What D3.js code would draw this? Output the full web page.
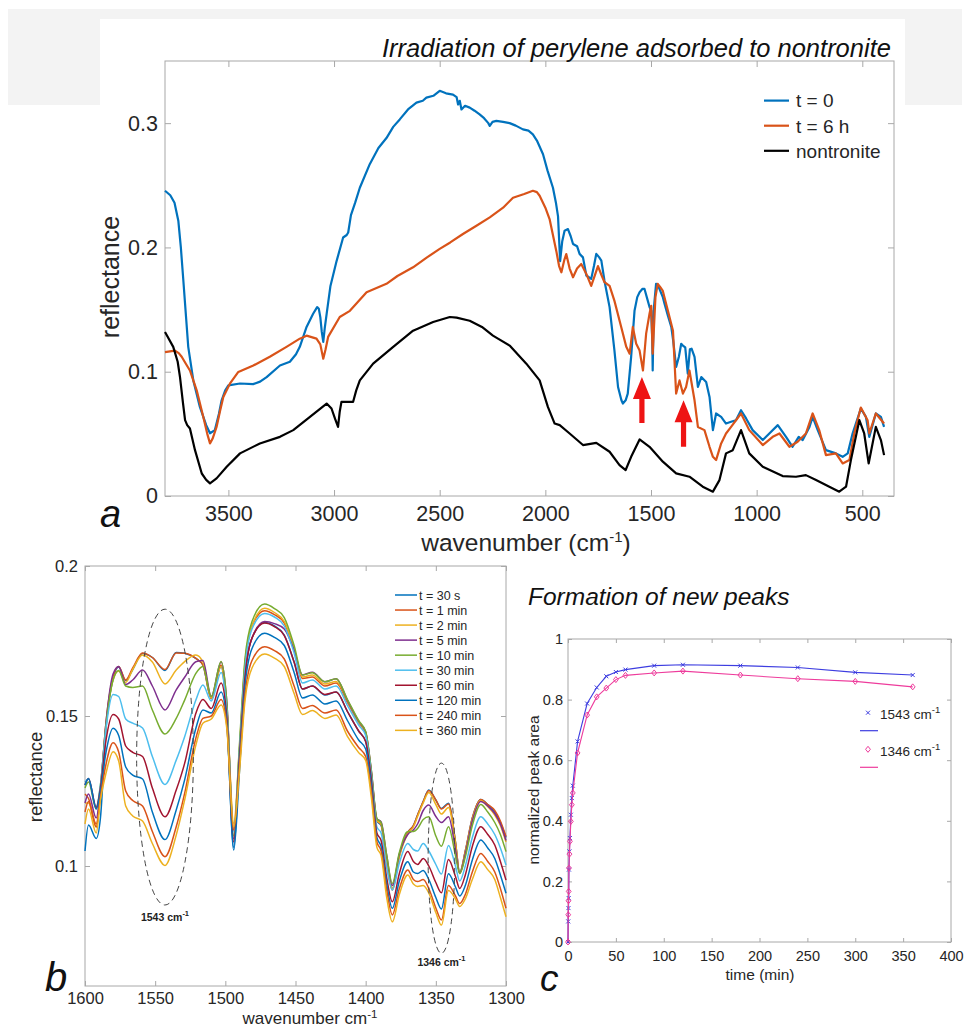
<!DOCTYPE html>
<html>
<head>
<meta charset="utf-8">
<script src="https://cdn.jsdelivr.net/npm/d3@7"></script>
<style>
body { margin: 0; background: #fff; }
svg { display: block; }
</style>
</head>
<body>
<script>
// ---- panel a: spectra, [wavenumber, reflectance] pairs
var specT0 = [[3800,0.2456],[3775,0.242],[3755,0.236],[3737,0.2215],[3725,0.200],[3713,0.173],[3700,0.143],[3690,0.120],[3666,0.093],[3635,0.0717],[3605,0.057],[3587,0.0505],[3564,0.053],[3545,0.066],[3532,0.077],[3515,0.085],[3500,0.089],[3445,0.0905],[3383,0.090],[3350,0.092],[3319,0.0957],[3256,0.105],[3209,0.108],[3180,0.114],[3162,0.120],[3130,0.136],[3099,0.1466],[3080,0.152],[3072,0.1506],[3065,0.1439],[3058,0.132],[3051,0.124],[3044,0.135],[3035,0.1466],[3017,0.169],[2988,0.189],[2957,0.208],[2940,0.210],[2933,0.212],[2920,0.226],[2900,0.236],[2878,0.248],[2831,0.267],[2790,0.280],[2752,0.288],[2720,0.297],[2689,0.303],[2650,0.311],[2610,0.3165],[2580,0.318],[2563,0.3205],[2530,0.322],[2500,0.326],[2470,0.324],[2437,0.323],[2420,0.321],[2413,0.315],[2405,0.318],[2397,0.311],[2380,0.314],[2358,0.3125],[2335,0.310],[2311,0.307],[2290,0.304],[2270,0.300],[2263,0.2978],[2250,0.301],[2232,0.3018],[2200,0.301],[2169,0.300],[2140,0.298],[2106,0.295],[2080,0.294],[2059,0.291],[2040,0.286],[2011,0.275],[1990,0.262],[1964,0.248],[1950,0.236],[1940,0.225],[1930,0.189],[1920,0.205],[1909,0.2135],[1893,0.2148],[1880,0.209],[1869,0.2028],[1850,0.201],[1838,0.1948],[1822,0.192],[1806,0.1774],[1783,0.1747],[1770,0.185],[1759,0.1948],[1745,0.192],[1735,0.1894],[1720,0.173],[1696,0.152],[1673,0.117],[1656,0.0877],[1640,0.077],[1633,0.0744],[1620,0.077],[1610,0.0824],[1594,0.112],[1578,0.149],[1565,0.160],[1554,0.164],[1540,0.1667],[1531,0.1667],[1515,0.157],[1507,0.152],[1499,0.149],[1494,0.125],[1492,0.101],[1487,0.150],[1476,0.1707],[1468,0.170],[1444,0.160],[1436,0.1547],[1420,0.145],[1404,0.136],[1395,0.125],[1381,0.1038],[1368,0.112],[1357,0.1225],[1349,0.121],[1338,0.1195],[1326,0.0985],[1316,0.118],[1308,0.1185],[1294,0.112],[1278,0.0877],[1262,0.0957],[1239,0.0917],[1223,0.0797],[1207,0.053],[1192,0.0664],[1168,0.0637],[1145,0.0583],[1121,0.0597],[1098,0.061],[1074,0.069],[1050,0.0624],[1019,0.053],[971,0.045],[940,0.0503],[900,0.057],[861,0.0476],[830,0.0396],[801,0.0476],[782,0.045],[750,0.0556],[735,0.0637],[711,0.053],[672,0.0369],[625,0.0343],[593,0.0315],[569,0.0343],[546,0.0503],[507,0.0704],[483,0.0637],[467,0.0476],[436,0.0664],[412,0.0637],[397,0.0556]];

var specT6 = [[3800,0.1158],[3753,0.117],[3735,0.115],[3721,0.112],[3700,0.106],[3682,0.101],[3650,0.085],[3619,0.0637],[3600,0.050],[3587,0.0423],[3575,0.046],[3556,0.0556],[3540,0.068],[3524,0.0797],[3493,0.0904],[3453,0.0998],[3382,0.105],[3304,0.112],[3225,0.120],[3162,0.1266],[3130,0.129],[3083,0.1266],[3065,0.122],[3051,0.1105],[3040,0.118],[3028,0.128],[2973,0.144],[2925,0.149],[2846,0.164],[2752,0.1707],[2700,0.177],[2626,0.184],[2560,0.192],[2500,0.1988],[2450,0.204],[2390,0.2108],[2330,0.217],[2263,0.2242],[2200,0.232],[2153,0.240],[2100,0.243],[2059,0.2456],[2040,0.2445],[2027,0.2416],[2000,0.232],[1980,0.2228],[1948,0.197],[1935,0.185],[1924,0.180],[1910,0.190],[1901,0.1947],[1885,0.183],[1869,0.176],[1850,0.183],[1830,0.1867],[1806,0.1787],[1783,0.169],[1765,0.178],[1751,0.185],[1735,0.178],[1720,0.172],[1696,0.169],[1673,0.157],[1641,0.136],[1617,0.120],[1601,0.1145],[1586,0.136],[1570,0.1225],[1554,0.117],[1538,0.101],[1523,0.1306],[1507,0.1466],[1499,0.153],[1492,0.1145],[1479,0.160],[1468,0.1707],[1456,0.168],[1444,0.165],[1420,0.149],[1396,0.133],[1381,0.0824],[1365,0.093],[1349,0.0824],[1334,0.0877],[1318,0.101],[1294,0.077],[1278,0.0556],[1247,0.053],[1223,0.0396],[1207,0.0315],[1192,0.0289],[1168,0.0423],[1145,0.0503],[1121,0.0556],[1074,0.0664],[1035,0.053],[971,0.041],[924,0.0476],[892,0.0503],[845,0.0396],[806,0.0436],[767,0.0503],[735,0.0664],[704,0.053],[672,0.0329],[625,0.0343],[593,0.0262],[561,0.0289],[538,0.0503],[507,0.0712],[475,0.061],[467,0.0503],[436,0.0664],[397,0.0583]];

var specNontronite = [[3800,0.1319],[3761,0.120],[3740,0.108],[3729,0.0957],[3715,0.075],[3705,0.061],[3695,0.057],[3682,0.0543],[3658,0.0369],[3626,0.0181],[3605,0.013],[3587,0.0102],[3556,0.0142],[3508,0.0235],[3445,0.0343],[3351,0.0423],[3256,0.0476],[3193,0.053],[3114,0.0637],[3035,0.0744],[3012,0.0704],[2995,0.062],[2981,0.0556],[2973,0.068],[2965,0.0757],[2933,0.0757],[2910,0.0757],[2895,0.085],[2878,0.093],[2815,0.1065],[2720,0.120],[2626,0.133],[2531,0.140],[2452,0.144],[2420,0.1435],[2358,0.141],[2300,0.136],[2248,0.129],[2169,0.121],[2090,0.1065],[2027,0.093],[1988,0.0717],[1956,0.0583],[1932,0.057],[1885,0.0503],[1822,0.041],[1759,0.0428],[1696,0.0356],[1649,0.0249],[1620,0.0209],[1594,0.0315],[1554,0.0455],[1507,0.0396],[1444,0.0276],[1381,0.0182],[1318,0.0155],[1255,0.0075],[1207,0.0035],[1176,0.0128],[1145,0.0343],[1113,0.0369],[1074,0.053],[1035,0.0343],[971,0.0235],[877,0.016],[814,0.0155],[767,0.0168],[719,0.0128],[656,0.0075],[609,0.0035],[577,0.0075],[554,0.0289],[514,0.061],[491,0.0503],[470,0.0262],[436,0.0556],[412,0.045],[397,0.0329]];

var aNames = ["t = 0", "t = 6 h", "nontronite"];
var aColors = ["#0072BD", "#D95319", "#000000"];
var aXTicks = [3500, 3000, 2500, 2000, 1500, 1000, 500];
var aYTicks = [0, 0.1, 0.2, 0.3];
var aYTickLabels = ["0", "0.1", "0.2", "0.3"];
// red arrows: wavenumber, tip reflectance, tail reflectance
var aArrows = [[1543, 0.0957, 0.0588], [1346, 0.0770, 0.0396]];

// ---- panel b: zoomed spectra, one value per wavenumber in bWave
var bWave = [1600, 1597.5, 1592, 1589, 1585, 1580, 1576, 1571, 1566, 1559,
  1552, 1543, 1535, 1529, 1521, 1516, 1510, 1503, 1499, 1494,
  1490, 1486, 1481, 1472, 1465, 1458, 1451, 1445, 1438, 1429,
  1421, 1413, 1405, 1400, 1396, 1392, 1389, 1385, 1381, 1376,
  1370, 1366, 1363, 1359, 1355, 1350, 1346, 1341, 1336, 1333,
  1329, 1324, 1318, 1313, 1308, 1304, 1300];
var bT30s = [0.105, 0.1137, 0.1092, 0.116, 0.146, 0.1625, 0.1663, 0.1618, 0.1655, 0.1708,
  0.1695, 0.1652, 0.1712, 0.1709, 0.1692, 0.167, 0.1558, 0.1665, 0.150, 0.1053,
  0.131, 0.163, 0.176, 0.1812, 0.180, 0.177, 0.168, 0.159, 0.160, 0.157,
  0.158, 0.1515, 0.145, 0.1415, 0.129, 0.115, 0.1135, 0.101, 0.0925, 0.1035,
  0.1112, 0.1135, 0.117, 0.1215, 0.1253, 0.122, 0.1192, 0.1209, 0.108, 0.0978,
  0.105, 0.116, 0.1222, 0.1205, 0.118, 0.1145, 0.1095];
var bT1 = [0.124, 0.1225, 0.114, 0.125, 0.148, 0.163, 0.1665, 0.162, 0.166, 0.171,
  0.1695, 0.1655, 0.171, 0.1709, 0.1692, 0.167, 0.1558, 0.167, 0.153, 0.1125,
  0.138, 0.167, 0.180, 0.1851, 0.1838, 0.181, 0.172, 0.1625, 0.163, 0.160,
  0.161, 0.1545, 0.1478, 0.1442, 0.131, 0.1152, 0.1138, 0.101, 0.092, 0.1035,
  0.1112, 0.1135, 0.117, 0.1215, 0.1252, 0.122, 0.119, 0.1207, 0.108, 0.0978,
  0.105, 0.116, 0.1222, 0.1205, 0.1185, 0.115, 0.1098];
var bT2 = [0.121, 0.121, 0.113, 0.124, 0.147, 0.162, 0.165, 0.1612, 0.1655, 0.1703,
  0.168, 0.1607, 0.1653, 0.1681, 0.1703, 0.168, 0.156, 0.1665, 0.153, 0.1142,
  0.139, 0.168, 0.180, 0.1859, 0.1845, 0.1815, 0.1725, 0.163, 0.1637, 0.1607,
  0.1615, 0.155, 0.148, 0.1445, 0.1315, 0.1152, 0.114, 0.1015, 0.0925, 0.103,
  0.1108, 0.113, 0.1165, 0.121, 0.1245, 0.1205, 0.1173, 0.1195, 0.1075, 0.0976,
  0.1045, 0.1155, 0.1218, 0.1198, 0.117, 0.1135, 0.108];
var bT5 = [0.121, 0.124, 0.116, 0.126, 0.148, 0.164, 0.1665, 0.1605, 0.162, 0.1653,
  0.160, 0.152, 0.1587, 0.1629, 0.1681, 0.1685, 0.1565, 0.168, 0.155, 0.109,
  0.137, 0.164, 0.176, 0.1815, 0.1808, 0.179, 0.172, 0.1637, 0.1646, 0.1614,
  0.1624, 0.1553, 0.1483, 0.1447, 0.132, 0.1158, 0.1147, 0.1035, 0.0935, 0.104,
  0.1105, 0.112, 0.114, 0.1185, 0.1203, 0.1165, 0.1145, 0.1164, 0.1055, 0.0975,
  0.104, 0.115, 0.1215, 0.120, 0.1175, 0.114, 0.1085];
var bT10 = [0.126, 0.128, 0.119, 0.127, 0.147, 0.162, 0.1652, 0.160, 0.1595, 0.160,
  0.152, 0.144, 0.1492, 0.1553, 0.1642, 0.1665, 0.1565, 0.1682, 0.155, 0.110,
  0.140, 0.169, 0.1815, 0.1873, 0.1858, 0.1828, 0.1735, 0.1637, 0.1644, 0.1614,
  0.1624, 0.1555, 0.1485, 0.1448, 0.132, 0.1158, 0.1145, 0.1035, 0.0942, 0.1045,
  0.1115, 0.1115, 0.1125, 0.1155, 0.1164, 0.110, 0.1066, 0.1131, 0.1035, 0.0975,
  0.103, 0.1135, 0.1205, 0.118, 0.1145, 0.1105, 0.1048];
var bT30 = [0.128, 0.129, 0.1198, 0.127, 0.146, 0.1572, 0.1565, 0.149, 0.1476, 0.146,
  0.1365, 0.1272, 0.1353, 0.1431, 0.1553, 0.1603, 0.155, 0.1645, 0.152, 0.1115,
  0.138, 0.166, 0.179, 0.1842, 0.183, 0.180, 0.171, 0.161, 0.162, 0.159,
  0.160, 0.1535, 0.147, 0.1435, 0.1305, 0.113, 0.111, 0.0995, 0.092, 0.101,
  0.1075, 0.1055, 0.105, 0.1075, 0.105, 0.1005, 0.0973, 0.1068, 0.100, 0.095,
  0.100, 0.1095, 0.1164, 0.114, 0.1105, 0.106, 0.1003];
var bT60 = [0.127, 0.1292, 0.1195, 0.126, 0.142, 0.1505, 0.149, 0.140, 0.1379, 0.1365,
  0.126, 0.1164, 0.1253, 0.1342, 0.1509, 0.1555, 0.1525, 0.161, 0.150, 0.108,
  0.136, 0.163, 0.176, 0.181, 0.1798, 0.1768, 0.168, 0.159, 0.160, 0.1572,
  0.158, 0.1515, 0.145, 0.1415, 0.129, 0.111, 0.1085, 0.096, 0.0881, 0.0975,
  0.1048, 0.1015, 0.1005, 0.1025, 0.100, 0.0945, 0.0911, 0.1022, 0.0965, 0.0925,
  0.097, 0.1065, 0.1131, 0.1105, 0.107, 0.1015, 0.0953];
var bT120 = [0.127, 0.1292, 0.119, 0.125, 0.138, 0.1459, 0.1435, 0.133, 0.1303, 0.129,
  0.118, 0.1088, 0.1187, 0.1287, 0.1459, 0.152, 0.151, 0.158, 0.148, 0.1062,
  0.134, 0.160, 0.1725, 0.1776, 0.1762, 0.1735, 0.1645, 0.156, 0.157, 0.154,
  0.155, 0.1485, 0.142, 0.139, 0.127, 0.1095, 0.1065, 0.094, 0.0859, 0.095,
  0.1014, 0.098, 0.0975, 0.0985, 0.0955, 0.0895, 0.0857, 0.0974, 0.093, 0.090,
  0.0935, 0.102, 0.1087, 0.106, 0.1025, 0.097, 0.0909];
var bT240 = [0.118, 0.1215, 0.113, 0.123, 0.134, 0.1411, 0.138, 0.125, 0.1218, 0.120,
  0.1115, 0.1031, 0.1131, 0.1242, 0.1426, 0.1492, 0.150, 0.1555, 0.147, 0.112,
  0.133, 0.157, 0.1685, 0.1731, 0.1718, 0.169, 0.160, 0.1525, 0.1535, 0.151,
  0.152, 0.145, 0.1395, 0.1365, 0.125, 0.108, 0.105, 0.092, 0.0837, 0.0925,
  0.0987, 0.0955, 0.0948, 0.0955, 0.0925, 0.086, 0.082, 0.0935, 0.090, 0.0875,
  0.0905, 0.098, 0.1042, 0.1015, 0.098, 0.0925, 0.0859];
var bT360 = [0.114, 0.119, 0.111, 0.122, 0.131, 0.1381, 0.135, 0.120, 0.1167, 0.115,
  0.1075, 0.1002, 0.1103, 0.122, 0.1403, 0.1476, 0.149, 0.1537, 0.146, 0.113,
  0.131, 0.155, 0.166, 0.1707, 0.1693, 0.1665, 0.1575, 0.1505, 0.1518, 0.1492,
  0.1503, 0.1432, 0.1378, 0.1352, 0.123, 0.1062, 0.1035, 0.0895, 0.0814, 0.0905,
  0.097, 0.094, 0.0932, 0.0935, 0.091, 0.0845, 0.0803, 0.0918, 0.089, 0.0865,
  0.089, 0.0955, 0.1014, 0.0988, 0.0955, 0.0895, 0.0831];
var bNames = ["t = 30 s", "t = 1 min", "t = 2 min", "t = 5 min", "t = 10 min",
  "t = 30 min", "t = 60 min", "t = 120 min", "t = 240 min", "t = 360 min"];
var bColors = ["#0072BD", "#D95319", "#EDB120", "#7E2F8E", "#77AC30",
  "#4DBEEE", "#A2142F", "#0072BD", "#D95319", "#EDB120"];
var bXTicks = [1600, 1550, 1500, 1450, 1400, 1350, 1300];
var bYTicks = [0.1, 0.15, 0.2];
var bYTickLabels = ["0.1", "0.15", "0.2"];
// dashed ellipses: centre wavenumber, centre value, half width (cm-1), half height, label value
var bEllipses = [[1543, 0.1363, 20.2, 0.0493, 0.0817, "1543"], [1346, 0.1026, 9.5, 0.0317, 0.0667, "1346"]];

// ---- panel c: normalized peak areas
var cTime = [0, 0.25, 0.5, 0.75, 1, 1.5, 2, 3, 4, 5, 10, 20, 30, 40, 50, 60, 90, 120, 180, 240, 300, 360];
var cPeak1543 = [0, 0.068, 0.112, 0.145, 0.239, 0.299, 0.343, 0.42, 0.475, 0.516, 0.662, 0.787, 0.840, 0.877, 0.891, 0.899, 0.912, 0.915, 0.912, 0.906, 0.890, 0.881];
var cPeak1346 = [0, 0.09, 0.136, 0.167, 0.244, 0.29, 0.332, 0.398, 0.453, 0.492, 0.624, 0.749, 0.809, 0.838, 0.866, 0.880, 0.888, 0.894, 0.881, 0.869, 0.860, 0.842];
var cNames = ["1543", "1346"];
var cColors = ["#3d3de0", "#ee3c9c"];
var cXTicks = [0, 50, 100, 150, 200, 250, 300, 350, 400];
var cYTicks = [0, 0.2, 0.4, 0.6, 0.8, 1];
var cYTickLabels = ["0", "0.2", "0.4", "0.6", "0.8", "1"];

var FONT = "'Liberation Sans', Arial, Helvetica, sans-serif";
var frameColor = "#a8a8a8";
var textColor = "#262626";

var svg = d3.select("body").append("svg")
  .attr("width", 970).attr("height", 1029)
  .attr("font-family", FONT);

// greyish scan band behind the top title
svg.append("rect").attr("x", 8).attr("y", 9).attr("width", 954).attr("height", 96).attr("fill", "#f3f3f3");
svg.append("rect").attr("x", 100).attr("y", 19).attr("width", 805).attr("height", 90).attr("fill", "#fff");

// box with inward ticks on all four sides (MATLAB look)
function drawFrame(g, x, y, o) {
  var left = x.range()[0], right = x.range()[1], bottom = y.range()[0], top = y.range()[1];
  var sides = [
    [d3.axisBottom(x).tickValues(o.xTicks).tickFormat(o.xFormat).tickPadding(o.xPad), [0, bottom]],
    [d3.axisTop(x).tickValues(o.xTicks).tickFormat(""), [0, top]],
    [d3.axisLeft(y).tickValues(o.yTicks).tickFormat(o.yFormat).tickPadding(o.yPad), [left, 0]],
    [d3.axisRight(y).tickValues(o.yTicks).tickFormat(""), [right, 0]]
  ];
  sides.forEach(function(s) {
    var a = g.append("g").attr("transform", "translate(" + s[1] + ")")
      .call(s[0].tickSizeInner(-o.tick).tickSizeOuter(0));
    a.attr("font-family", FONT).attr("font-size", o.font);
    a.select(".domain").remove();
    a.selectAll("line").attr("stroke", frameColor);
    a.selectAll("text").attr("fill", textColor);
  });
  g.append("rect").attr("x", left).attr("y", top)
    .attr("width", right - left).attr("height", bottom - top)
    .attr("fill", "none").attr("stroke", frameColor).attr("stroke-width", 1);
}

// =============== panel a ===============
var xa = d3.scaleLinear().domain([3800, 350]).range([165, 894]);
var ya = d3.scaleLinear().domain([0, 0.35]).range([496, 61]);
var ga = svg.append("g");

drawFrame(ga, xa, ya, {
  xTicks: aXTicks, yTicks: aYTicks,
  xFormat: function(d) { return d; },
  yFormat: function(d, i) { return aYTickLabels[i]; },
  xPad: 10, yPad: 7, tick: 6, font: 21.5
});

var lineA = d3.line().x(function(d) { return xa(d[0]); }).y(function(d) { return ya(d[1]); });
[specT0, specT6, specNontronite].forEach(function(s, i) {
  ga.append("path").datum(s).attr("d", lineA)
    .attr("fill", "none").attr("stroke", aColors[i]).attr("stroke-width", 2.2)
    .attr("stroke-linejoin", "round");
});

// red arrows
aArrows.forEach(function(a) {
  var cx = xa(a[0]), yTip = ya(a[1]), yTail = ya(a[2]);
  var head = 22, hw = 9, sw = 2.6;
  ga.append("path")
    .attr("d", "M" + cx + "," + yTip + " L" + (cx + hw) + "," + (yTip + head) +
      " L" + (cx + sw) + "," + (yTip + head) + " L" + (cx + sw) + "," + yTail +
      " L" + (cx - sw) + "," + yTail + " L" + (cx - sw) + "," + (yTip + head) +
      " L" + (cx - hw) + "," + (yTip + head) + "Z")
    .attr("fill", "#ee1414");
});

// legend a
aNames.forEach(function(n, i) {
  var yy = 100.6 + i * 25.1;
  ga.append("line").attr("x1", 764).attr("x2", 789).attr("y1", yy).attr("y2", yy)
    .attr("stroke", aColors[i]).attr("stroke-width", 2.2);
  ga.append("text").attr("x", 796).attr("y", yy + 6.8).attr("font-size", 19)
    .attr("fill", textColor).text(n);
});

ga.append("text").attr("x", 382).attr("y", 57).attr("font-size", 25.5)
  .attr("font-style", "italic").attr("fill", "#111")
  .text("Irradiation of perylene adsorbed to nontronite");

ga.append("text").attr("transform", "translate(119,277) rotate(-90)")
  .attr("text-anchor", "middle").attr("font-size", 25).attr("fill", textColor)
  .text("reflectance");

var xla = ga.append("text").attr("x", 526).attr("y", 551).attr("text-anchor", "middle")
  .attr("font-size", 24.5).attr("fill", textColor);
xla.append("tspan").text("wavenumber (cm");
xla.append("tspan").attr("dy", -9).attr("font-size", 15).text("-1");
xla.append("tspan").attr("dy", 9).text(")");

ga.append("text").attr("x", 100).attr("y", 527).attr("font-size", 38)
  .attr("font-style", "italic").attr("fill", "#111").text("a");

// =============== panel b ===============
var xb = d3.scaleLinear().domain([1600, 1300]).range([85, 506]);
var yb = d3.scaleLinear().domain([0.06, 0.2]).range([986, 566]);
var gb = svg.append("g");

drawFrame(gb, xb, yb, {
  xTicks: bXTicks, yTicks: bYTicks,
  xFormat: function(d) { return d; },
  yFormat: function(d, i) { return bYTickLabels[i]; },
  xPad: 6, yPad: 7, tick: 5, font: 16.5
});

var lineB = d3.line().curve(d3.curveMonotoneX)
  .x(function(d) { return xb(d[0]); }).y(function(d) { return yb(d[1]); });
[bT30s, bT1, bT2, bT5, bT10, bT30, bT60, bT120, bT240, bT360].forEach(function(s, i) {
  gb.append("path").datum(d3.zip(bWave, s)).attr("d", lineB)
    .attr("fill", "none").attr("stroke", bColors[i]).attr("stroke-width", 1.5);
});

bEllipses.forEach(function(e) {
  gb.append("ellipse")
    .attr("cx", xb(e[0])).attr("cy", yb(e[1]))
    .attr("rx", Math.abs(xb(e[0] + e[2]) - xb(e[0])))
    .attr("ry", Math.abs(yb(e[1] + e[3]) - yb(e[1])))
    .attr("fill", "none").attr("stroke", "#444").attr("stroke-width", 1)
    .attr("stroke-dasharray", "6,4");
  var t = gb.append("text").attr("x", xb(e[0])).attr("y", yb(e[4]))
    .attr("text-anchor", "middle").attr("font-size", 10.5).attr("font-weight", "bold")
    .attr("fill", "#222");
  t.append("tspan").text(e[5] + " cm");
  t.append("tspan").attr("dy", -5).attr("font-size", 7.5).text("-1");
});

bNames.forEach(function(n, i) {
  var yy = 595 + i * 15.04;
  gb.append("line").attr("x1", 395).attr("x2", 417).attr("y1", yy).attr("y2", yy)
    .attr("stroke", bColors[i]).attr("stroke-width", 1.5);
  gb.append("text").attr("x", 419).attr("y", yy + 4.5).attr("font-size", 12.5)
    .attr("fill", textColor).text(n);
});

gb.append("text").attr("transform", "translate(42,777) rotate(-90)")
  .attr("text-anchor", "middle").attr("font-size", 18.5).attr("fill", textColor)
  .text("reflectance");

var xlb = gb.append("text").attr("x", 310).attr("y", 1024).attr("text-anchor", "middle")
  .attr("font-size", 17).attr("fill", textColor);
xlb.append("tspan").text("wavenumber cm");
xlb.append("tspan").attr("dy", -6).attr("font-size", 11.5).text("-1");

gb.append("text").attr("x", 45).attr("y", 991).attr("font-size", 40)
  .attr("font-style", "italic").attr("fill", "#111").text("b");

// =============== panel c ===============
var xc = d3.scaleLinear().domain([0, 400]).range([568, 951]);
var yc = d3.scaleLinear().domain([0, 1]).range([942, 639]);
var gc = svg.append("g");

drawFrame(gc, xc, yc, {
  xTicks: cXTicks, yTicks: cYTicks,
  xFormat: function(d) { return d; },
  yFormat: function(d, i) { return cYTickLabels[i]; },
  xPad: 9, yPad: 5, tick: 4, font: 14.5
});

var lineC = d3.line().x(function(d) { return xc(d[0]); }).y(function(d) { return yc(d[1]); });

function markX(g, cx, cy, r, color) {
  g.append("path")
    .attr("d", "M" + (cx - r) + "," + (cy - r) + "L" + (cx + r) + "," + (cy + r) +
      "M" + (cx - r) + "," + (cy + r) + "L" + (cx + r) + "," + (cy - r))
    .attr("stroke", color).attr("stroke-width", 1).attr("fill", "none");
}
function markDiamond(g, cx, cy, r, color) {
  g.append("path")
    .attr("d", "M" + cx + "," + (cy - r) + "L" + (cx + r * 0.8) + "," + cy +
      "L" + cx + "," + (cy + r) + "L" + (cx - r * 0.8) + "," + cy + "Z")
    .attr("stroke", color).attr("stroke-width", 1).attr("fill", "none");
}

[cPeak1543, cPeak1346].forEach(function(s, i) {
  var pts = d3.zip(cTime, s);
  gc.append("path").datum(pts).attr("d", lineC)
    .attr("fill", "none").attr("stroke", cColors[i]).attr("stroke-width", 1.1);
  pts.forEach(function(p) {
    if (i === 0) markX(gc, xc(p[0]), yc(p[1]), 2, cColors[i]);
    else markDiamond(gc, xc(p[0]), yc(p[1]), 3, cColors[i]);
  });
});

// legend c
cNames.forEach(function(n, i) {
  var yy = 712.7 + i * 36.6;
  if (i === 0) markX(gc, 868, yy, 2, cColors[i]);
  else markDiamond(gc, 868, yy, 3, cColors[i]);
  var t = gc.append("text").attr("x", 880).attr("y", yy + 6.5).attr("font-size", 13.5)
    .attr("fill", textColor);
  t.append("tspan").text(n + " cm");
  t.append("tspan").attr("dy", -6).attr("font-size", 9.5).text("-1");
  gc.append("line").attr("x1", 860).attr("x2", 878).attr("y1", yy + 18).attr("y2", yy + 18)
    .attr("stroke", cColors[i]).attr("stroke-width", 1.2);
});

gc.append("text").attr("x", 528).attr("y", 605).attr("font-size", 24.5)
  .attr("font-style", "italic").attr("fill", "#111").text("Formation of new peaks");

gc.append("text").attr("transform", "translate(539,790) rotate(-90)")
  .attr("text-anchor", "middle").attr("font-size", 15.5).attr("fill", textColor)
  .text("normalized peak area");

gc.append("text").attr("x", 760).attr("y", 980).attr("text-anchor", "middle")
  .attr("font-size", 15.5).attr("fill", textColor).text("time (min)");

gc.append("text").attr("x", 540).attr("y", 991).attr("font-size", 37)
  .attr("font-style", "italic").attr("fill", "#111").text("c");
</script>
</body>
</html>
